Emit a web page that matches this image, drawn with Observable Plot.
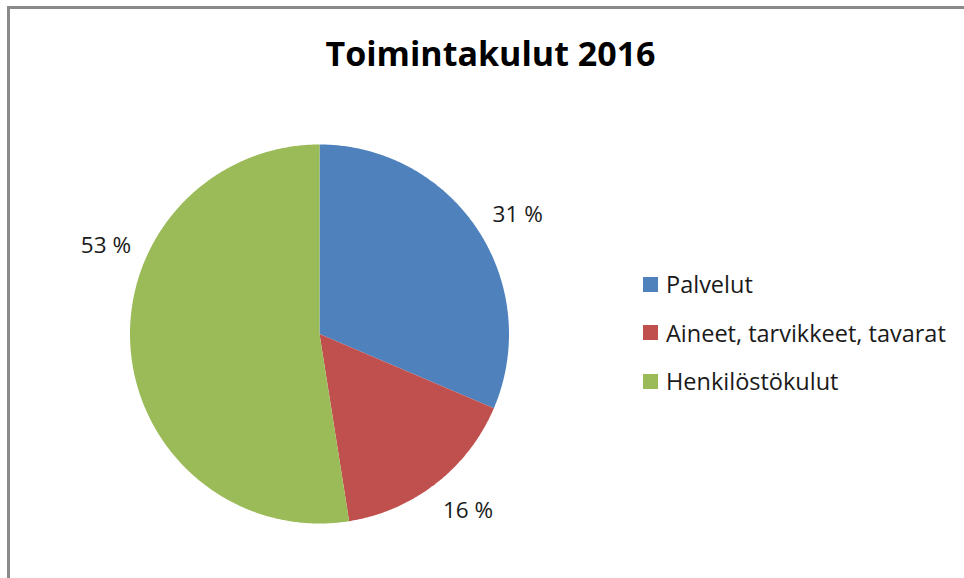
<!DOCTYPE html>
<html>
<head>
<meta charset="utf-8">
<script src="https://cdn.jsdelivr.net/npm/d3@7"></script>
<script src="https://cdn.jsdelivr.net/npm/@observablehq/plot@0.6"></script>
<style>
  html, body { margin: 0; padding: 0; background: #fff; }
  #chart { position: relative; width: 964px; height: 578px; overflow: hidden; background: #fff; font-family: "Open Sans", sans-serif; }
  #frame { position: absolute; left: 7px; top: 6px; width: 980px; height: 600px; border-left: 3px solid #8a8a8a; border-top: 3px solid #8a8a8a; }
  #title { position: absolute; left: 0; width: 981px; top: 36px; line-height: 34px; text-align: center; font-weight: bold; font-size: 34px; color: #000; white-space: nowrap; }
  #pie { position: absolute; left: 0; top: 0; }
  #legend { position: absolute; left: 643px; top: 260px; width: 320px; }
  .lg-swatches { font-family: "Open Sans", sans-serif; font-size: 23.5px; color: #1a1a1a; margin: 0; }
  .lg-swatch { display: flex; align-items: center; height: 48.5px; padding: 0; margin: 0; }
  .lg-swatch > svg { margin-right: 8px; }
  .lg-swatch-label { overflow: visible; white-space: nowrap; }
</style>
</head>
<body>
<div id="chart">
  <div id="frame"></div>
  <div id="title">Toimintakulut 2016</div>
  <div id="pie"></div>
  <div id="legend"></div>
</div>
<script>
// ---- data ----
const categories = ["Palvelut", "Aineet, tarvikkeet, tavarat", "Henkilöstökulut"];
const shares = [31.4, 16.1, 52.5];
const shareLabels = ["31 %", "16 %", "53 %"];
const colors = ["#4F81BD", "#C0504D", "#9BBB59"];

// ---- pie geometry (unit circle, y downward, clockwise from 12 o'clock) ----
const arcs = d3.pie().sort(null).value(d => d)(shares);
const pt = (a, r = 1) => [r * Math.sin(a), -r * Math.cos(a)];

const slices = arcs.map((a, i) => {
  const n = Math.max(2, Math.ceil((a.endAngle - a.startAngle) / (Math.PI / 360)));
  const ring = [[0, 0]];
  for (let k = 0; k <= n; k++) ring.push(pt(a.startAngle + (a.endAngle - a.startAngle) * k / n));
  ring.push([0, 0]);
  return {type: "Feature", properties: {category: categories[i]}, geometry: {type: "Polygon", coordinates: [ring]}};
});

// label placement similar to Excel's "best fit" (angular nudges in degrees)
const labelNudge = {"Palvelut": 2.5, "Aineet, tarvikkeet, tavarat": -2, "Henkilöstökulut": 27};
const labelData = arcs.map((a, i) => {
  const mid = (a.startAngle + a.endAngle) / 2 + (labelNudge[categories[i]] || 0) * Math.PI / 180;
  const [x, y] = pt(mid, 1.22);
  return {x, y, text: shareLabels[i]};
});

const domain = {type: "MultiPoint", coordinates: [[-1, -1], [1, 1]]};

const plot = Plot.plot({
  width: 964,
  height: 578,
  marginLeft: 129,
  marginRight: 455,
  marginTop: 144,
  marginBottom: 55,
  projection: {type: "identity", domain, clip: false},
  color: {domain: categories, range: colors},
  style: {background: "transparent", overflow: "visible"},
  marks: [
    Plot.geo(slices, {fill: d => d.properties.category, stroke: "none"}),
    Plot.text(labelData, {x: "x", y: "y", text: "text", fontSize: 22.5, fill: "#1a1a1a", fontFamily: "Open Sans"})
  ]
});
document.getElementById("pie").appendChild(plot);

const legend = plot.legend("color", {legend: "swatches", columns: 1, swatchSize: 15, className: "lg"});
document.getElementById("legend").appendChild(legend);
</script>
</body>
</html>
